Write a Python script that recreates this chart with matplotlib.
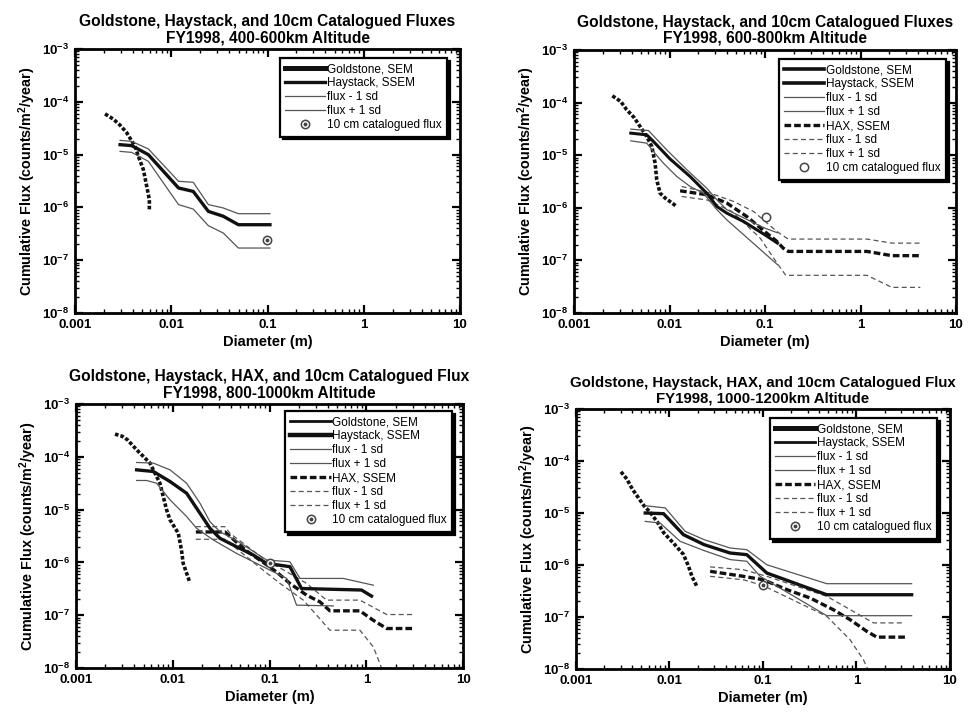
import matplotlib
matplotlib.use("Agg")
import matplotlib.pyplot as plt
from matplotlib.lines import Line2D
from matplotlib.ticker import LogLocator, NullFormatter

plt.rcParams['font.family'] = ['Liberation Sans', 'DejaVu Sans']
plt.rcParams['mathtext.fontset'] = 'custom'
plt.rcParams['mathtext.rm'] = 'Liberation Sans:bold'
plt.rcParams['mathtext.bf'] = 'Liberation Sans:bold'
plt.rcParams['mathtext.it'] = 'Liberation Sans:bold'
plt.rcParams['mathtext.default'] = 'bf'

# ---------------- axis ticks ----------------
X_TICKS = [0.001, 0.01, 0.1, 1, 10]
X_TICK_LABELS = ['0.001', '0.01', '0.1', '1', '10']
Y_TICKS = [1e-8, 1e-7, 1e-6, 1e-5, 1e-4, 1e-3]
Y_TICK_LABELS = [r'$10^{-8}$', r'$10^{-7}$', r'$10^{-6}$', r'$10^{-5}$', r'$10^{-4}$', r'$10^{-3}$']
X_LABEL = 'Diameter (m)'
Y_LABEL = r'Cumulative Flux (counts/m$^{2}$/year)'

TITLES = [
    'Goldstone, Haystack, and 10cm Catalogued Fluxes\nFY1998, 400-600km Altitude',
    'Goldstone, Haystack, and 10cm Catalogued Fluxes\nFY1998, 600-800km Altitude',
    'Goldstone, Haystack, HAX, and 10cm Catalogued Flux\nFY1998, 800-1000km Altitude',
    'Goldstone, Haystack, HAX, and 10cm Catalogued Flux\nFY1998, 1000-1200km Altitude',
]
TITLE_SIZES = [11.2, 11.2, 11.2, 10.85]
LABELS_SHORT = ['Goldstone, SEM', 'Haystack, SSEM', 'flux - 1 sd', 'flux + 1 sd', '10 cm catalogued flux']
LABELS_LONG = ['Goldstone, SEM', 'Haystack, SSEM', 'flux - 1 sd', 'flux + 1 sd',
               'HAX, SSEM', 'flux - 1 sd', 'flux + 1 sd', '10 cm catalogued flux']

# ---------------- Panel 1: 400-600 km ----------------
p1_gold_d = [0.00205, 0.0025, 0.00294, 0.00344, 0.0042, 0.00455, 0.00513, 0.00556, 0.00592, 0.00592]
p1_gold_f = [5.9e-5, 4.7e-5, 3.6e-5, 2.6e-5, 1.44e-5, 9.3e-6, 5.2e-6, 2.5e-6, 1.4e-6, 8.4e-7]
p1_hay_d = [0.00294, 0.00388, 0.00578, 0.0119, 0.0169, 0.0243, 0.0347, 0.0498, 0.106]
p1_hay_f = [1.54e-5, 1.48e-5, 9.97e-6, 2.33e-6, 2.01e-6, 8.4e-7, 6.8e-7, 4.7e-7, 4.7e-7]
p1_hay_up = [1.86e-5, 1.78e-5, 1.28e-5, 3.12e-6, 2.99e-6, 1.13e-6, 9.75e-7, 7.6e-7, 7.6e-7]
p1_hay_lo = [1.15e-5, 1.1e-5, 7.45e-6, 1.13e-6, 9.3e-7, 4.5e-7, 3.27e-7, 1.7e-7, 1.7e-7]
p1_cat_d = [0.098]
p1_cat_f = [2.4e-7]

# ---------------- Panel 2: 600-800 km ----------------
p2_gold_d = [0.00252, 0.00308, 0.00356, 0.00425, 0.00492, 0.00578, 0.00652, 0.00706, 0.00735, 0.00796, 0.0090, 0.0119]
p2_gold_f = [1.34e-4, 1.05e-4, 7.3e-5, 5.2e-5, 3.5e-5, 2.26e-5, 1.46e-5, 7.05e-6, 3.4e-6, 1.9e-6, 1.53e-6, 1.06e-6]
p2_hay_d = [0.00393, 0.00578, 0.00678, 0.0101, 0.0164, 0.0245, 0.0313, 0.0398, 0.0595, 0.0995, 0.135]
p2_hay_f = [2.62e-5, 2.43e-5, 1.82e-5, 8.5e-6, 3.94e-6, 1.9e-6, 1.06e-6, 7.9e-7, 5.5e-7, 3.07e-7, 2.13e-7]
p2_hay_up_d = [0.00393, 0.00601, 0.00935, 0.0152, 0.0245, 0.0313, 0.0398, 0.0995, 0.135]
p2_hay_up_f = [3.12e-5, 2.94e-5, 1.26e-5, 5.27e-6, 2.36e-6, 1.42e-6, 9.2e-7, 4.1e-7, 3.35e-7]
p2_hay_lo_d = [0.00393, 0.00578, 0.00678, 0.00863, 0.0119, 0.0164, 0.0226, 0.0313, 0.0398, 0.135]
p2_hay_lo_f = [1.87e-5, 1.69e-5, 1.17e-5, 7.05e-6, 3.94e-6, 2.54e-6, 1.9e-6, 9.2e-7, 5.9e-7, 8.3e-8]
p2_hax_d = [0.0129, 0.0245, 0.0398, 0.0646, 0.104, 0.133, 0.155, 0.175, 1.17, 2.13, 4.23]
p2_hax_f = [2.1e-6, 1.77e-6, 1.23e-6, 6.8e-7, 3.3e-7, 2.3e-7, 1.71e-7, 1.48e-7, 1.48e-7, 1.23e-7, 1.23e-7]
p2_hax_up_d = [0.0134, 0.0266, 0.0468, 0.0759, 0.133, 0.175, 1.17, 2.13, 4.23]
p2_hax_up_f = [2.54e-6, 1.9e-6, 1.32e-6, 8.5e-7, 3.55e-7, 2.54e-7, 2.54e-7, 2.13e-7, 2.13e-7]
p2_hax_lo_d = [0.0134, 0.025, 0.045, 0.089, 0.133, 0.165, 1.17, 2.13, 4.23]
p2_hax_lo_f = [1.64e-6, 1.4e-6, 8.5e-7, 2.65e-7, 9.0e-8, 5.2e-8, 5.2e-8, 3.07e-8, 3.07e-8]
p2_cat_d = [0.102]
p2_cat_f = [6.65e-7]

# ---------------- Panel 3: 800-1000 km ----------------
p3_gold_d = [0.00253, 0.0030, 0.0034, 0.00423, 0.00581, 0.00736, 0.00863, 0.00936, 0.0114, 0.0123, 0.0128, 0.0145, 0.0150]
p3_gold_f = [2.69e-4, 2.45e-4, 2.1e-4, 1.36e-4, 7.6e-5, 3.16e-5, 9.9e-6, 6.4e-6, 3.56e-6, 1.71e-6, 9.6e-7, 5.0e-7, 4.1e-7]
p3_hay_d = [0.00423, 0.00629, 0.00936, 0.0139, 0.0191, 0.0242, 0.0307, 0.0456, 0.0678, 0.093, 0.162, 0.214, 0.89, 1.13]
p3_hay_f = [5.66e-5, 5.27e-5, 3.4e-5, 2.04e-5, 8.5e-6, 4.43e-6, 2.86e-6, 1.98e-6, 1.38e-6, 9.6e-7, 8.3e-7, 3.2e-7, 3.0e-7, 2.3e-7]
p3_hay_up_d = [0.00423, 0.00629, 0.00936, 0.0139, 0.0191, 0.0242, 0.0307, 0.0494, 0.093, 0.162, 0.206, 0.576, 1.18]
p3_hay_up_f = [7.8e-5, 7.6e-5, 5.66e-5, 3.16e-5, 1.32e-5, 5.9e-6, 3.82e-6, 2.36e-6, 1.11e-6, 1.03e-6, 4.97e-7, 4.97e-7, 3.7e-7]
p3_hay_lo_d = [0.00423, 0.00537, 0.0068, 0.00936, 0.0139, 0.0176, 0.0262, 0.0456, 0.0794, 0.109, 0.15, 0.19, 0.455]
p3_hay_lo_f = [3.56e-5, 3.56e-5, 3.16e-5, 1.53e-5, 7.4e-6, 4.43e-6, 2.66e-6, 1.48e-6, 8.9e-7, 6.65e-7, 5.0e-7, 1.55e-7, 1.5e-7]
p3_hax_d = [0.0173, 0.0346, 0.0578, 0.086, 0.118, 0.162, 0.241, 0.331, 0.42, 0.857, 1.18, 1.62, 3.05]
p3_hax_f = [3.77e-6, 3.77e-6, 1.65e-6, 1.0e-6, 6.6e-7, 4.0e-7, 2.4e-7, 1.79e-7, 1.21e-7, 1.21e-7, 8.0e-8, 5.6e-8, 5.6e-8]
p3_hax_up_d = [0.0173, 0.0346, 0.0389, 0.086, 0.15, 0.241, 0.388, 0.857, 1.62, 3.05]
p3_hax_up_f = [4.75e-6, 4.75e-6, 3.56e-6, 1.19e-6, 6.65e-7, 4.0e-7, 1.93e-7, 1.93e-7, 1.03e-7, 1.03e-7]
p3_hax_lo_d = [0.0173, 0.0346, 0.0389, 0.086, 0.128, 0.223, 0.42, 0.857, 1.18, 1.38, 1.5]
p3_hax_lo_f = [2.74e-6, 2.74e-6, 2.3e-6, 7.1e-7, 4.0e-7, 1.93e-7, 5.2e-8, 5.2e-8, 2.5e-8, 1.21e-8, 8.0e-9]
p3_cat_d = [0.1007]
p3_cat_f = [9.8e-7]

# ---------------- Panel 4: 1000-1200 km ----------------
p4_gold_d = [0.00303, 0.0035, 0.0040, 0.0053, 0.0063, 0.0075, 0.00865, 0.0111, 0.0141, 0.0160, 0.0174, 0.0196]
p4_gold_f = [6.2e-5, 4.5e-5, 2.9e-5, 1.4e-5, 1.0e-5, 6.5e-6, 4.2e-6, 2.6e-6, 1.6e-6, 9.4e-7, 6.05e-7, 3.9e-7]
p4_hay_d = [0.00551, 0.00865, 0.0141, 0.0235, 0.0445, 0.0671, 0.11, 0.481, 3.89]
p4_hay_f = [1.0e-5, 9.7e-6, 3.83e-6, 2.46e-6, 1.7e-6, 1.58e-6, 7.0e-7, 2.68e-7, 2.68e-7]
p4_hay_up_d = [0.00551, 0.00902, 0.0147, 0.0235, 0.0445, 0.0671, 0.11, 0.481, 3.89]
p4_hay_up_f = [1.38e-5, 1.25e-5, 4.44e-6, 3.07e-6, 2.12e-6, 1.97e-6, 1.01e-6, 4.37e-7, 4.37e-7]
p4_hay_lo_d = [0.00551, 0.00796, 0.013, 0.0235, 0.0445, 0.0671, 0.0933, 0.481, 3.89]
p4_hay_lo_f = [6.9e-6, 6.4e-6, 2.85e-6, 1.89e-6, 1.27e-6, 1.18e-6, 6.05e-7, 1.06e-7, 1.06e-7]
p4_hax_d = [0.0272, 0.0619, 0.101, 0.18, 0.319, 0.566, 0.853, 1.29, 1.65, 3.44]
p4_hax_f = [7.55e-7, 6.05e-7, 5.2e-7, 3.36e-7, 2.32e-7, 1.38e-7, 8.9e-8, 5.3e-8, 4.1e-8, 4.1e-8]
p4_hax_up_d = [0.0272, 0.0619, 0.11, 0.481, 1.52, 3.17]
p4_hax_up_f = [9.2e-7, 8.1e-7, 6.05e-7, 2.5e-7, 7.7e-8, 7.7e-8]
p4_hax_lo_d = [0.0272, 0.0619, 0.101, 0.481, 0.853, 1.186, 1.4]
p4_hax_lo_f = [6.05e-7, 5.2e-7, 4.0e-7, 1.03e-7, 3.66e-8, 1.51e-8, 8.0e-9]
p4_cat_d = [0.101]
p4_cat_f = [4.2e-7]

# ---------------- styles ----------------
BLACK = '#111111'
GRAY = '#555555'
GOLD_STYLE = dict(color=BLACK, lw=2.6, linestyle=(0, (1.0, 0.55)), solid_capstyle='butt')
SD_STYLE = dict(color=GRAY, lw=0.9)
HAX_STYLE = dict(color=BLACK, lw=2.4, linestyle=(0, (2.0, 0.9)))
HAX_SD_STYLE = dict(color=GRAY, lw=0.9, linestyle=(0, (4.0, 2.6)))

fig = plt.figure(figsize=(9.68, 7.13), dpi=100)
positions = [
    [0.0775, 0.561, 0.3977, 0.3703],
    [0.593, 0.561, 0.3946, 0.3690],
    [0.0785, 0.0631, 0.4000, 0.3703],
    [0.595, 0.0617, 0.3864, 0.3647],
]
legend_anchor = [(0.966, 0.966), (0.974, 0.966), (0.972, 0.973), (0.965, 0.965)]


def style_axes(ax, title, tsize):
    ax.set_xscale('log')
    ax.set_yscale('log')
    ax.set_xlim(X_TICKS[0], X_TICKS[-1])
    ax.set_ylim(Y_TICKS[0], Y_TICKS[-1])
    ax.set_xticks(X_TICKS)
    ax.set_xticklabels(X_TICK_LABELS, fontsize=9.5, fontweight='bold')
    ax.set_yticks(Y_TICKS)
    ax.set_yticklabels(Y_TICK_LABELS, fontsize=9.5)
    ax.xaxis.set_minor_locator(LogLocator(base=10, subs=range(2, 10), numticks=20))
    ax.yaxis.set_minor_locator(LogLocator(base=10, subs=range(2, 10), numticks=20))
    ax.xaxis.set_minor_formatter(NullFormatter())
    ax.yaxis.set_minor_formatter(NullFormatter())
    ax.tick_params(which='major', direction='in', length=6, width=1.6, top=True, right=True, pad=4)
    ax.tick_params(which='minor', direction='in', length=3, width=1.0, top=True, right=True)
    for s in ax.spines.values():
        s.set_linewidth(2.0)
    ax.set_xlabel(X_LABEL, fontsize=10.5, fontweight='bold', labelpad=3)
    ax.set_ylabel(Y_LABEL, fontsize=10.4, fontweight='bold', labelpad=3)
    ax.set_title(title, fontsize=tsize, fontweight='bold', pad=5, linespacing=1.05)


def cat_handles(ax, d, f, dotted):
    h1, = ax.plot(d, f, linestyle='none', marker='o', ms=6, mfc='white', mec='#444444', mew=1.1)
    if dotted:
        h2, = ax.plot(d, f, linestyle='none', marker='o', ms=1.8, mfc='#444444', mec='#444444')
        return (h1, h2)
    return h1


def make_legend(ax, handles, labels, anchor):
    leg = ax.legend(handles, labels, loc='upper right', bbox_to_anchor=anchor, borderaxespad=0,
                    fontsize=8.5, handlelength=3.4, handletextpad=0.15, labelspacing=0.17,
                    borderpad=0.45, fancybox=False, framealpha=1, edgecolor='black', numpoints=1,
                    shadow={'color': 'black', 'alpha': 1.0})
    leg.get_frame().set_linewidth(1.6)
    return leg


# ---------- Panel 1 ----------
ax = fig.add_axes(positions[0])
style_axes(ax, TITLES[0], TITLE_SIZES[0])
ax.plot(p1_gold_d, p1_gold_f, **GOLD_STYLE)
ax.plot(p1_hay_d, p1_hay_up, **SD_STYLE)
ax.plot(p1_hay_d, p1_hay_lo, **SD_STYLE)
ax.plot(p1_hay_d, p1_hay_f, color=BLACK, lw=2.4)
hc = cat_handles(ax, p1_cat_d, p1_cat_f, True)
handles = [Line2D([], [], color=BLACK, lw=3.6), Line2D([], [], color=BLACK, lw=2.4),
           Line2D([], [], **SD_STYLE), Line2D([], [], **SD_STYLE), hc]
make_legend(ax, handles, LABELS_SHORT, legend_anchor[0])

# ---------- Panels 2-4 ----------
panels = [
    (p2_gold_d, p2_gold_f, p2_hay_d, p2_hay_f, p2_hay_up_d, p2_hay_up_f, p2_hay_lo_d, p2_hay_lo_f,
     p2_hax_d, p2_hax_f, p2_hax_up_d, p2_hax_up_f, p2_hax_lo_d, p2_hax_lo_f, p2_cat_d, p2_cat_f,
     2.6, 2.6, 2.2, False),
    (p3_gold_d, p3_gold_f, p3_hay_d, p3_hay_f, p3_hay_up_d, p3_hay_up_f, p3_hay_lo_d, p3_hay_lo_f,
     p3_hax_d, p3_hax_f, p3_hax_up_d, p3_hax_up_f, p3_hax_lo_d, p3_hax_lo_f, p3_cat_d, p3_cat_f,
     2.0, 3.2, 2.4, True),
    (p4_gold_d, p4_gold_f, p4_hay_d, p4_hay_f, p4_hay_up_d, p4_hay_up_f, p4_hay_lo_d, p4_hay_lo_f,
     p4_hax_d, p4_hax_f, p4_hax_up_d, p4_hax_up_f, p4_hax_lo_d, p4_hax_lo_f, p4_cat_d, p4_cat_f,
     3.6, 2.0, 2.4, True),
]
for i, pdata in enumerate(panels, start=1):
    (gd, gf, hd, hf, hud, huf, hld, hlf, xd, xf, xud, xuf, xld, xlf, cd, cf,
     lw_gold_leg, lw_hay_leg, lw_hay, dotted) = pdata
    ax = fig.add_axes(positions[i])
    style_axes(ax, TITLES[i], TITLE_SIZES[i])
    ax.plot(gd, gf, **GOLD_STYLE)
    ax.plot(xud, xuf, **HAX_SD_STYLE)
    ax.plot(xld, xlf, **HAX_SD_STYLE)
    ax.plot(xd, xf, **HAX_STYLE)
    ax.plot(hud, huf, **SD_STYLE)
    ax.plot(hld, hlf, **SD_STYLE)
    ax.plot(hd, hf, color=BLACK, lw=lw_hay)
    hc = cat_handles(ax, cd, cf, dotted)
    handles = [Line2D([], [], color=BLACK, lw=lw_gold_leg), Line2D([], [], color=BLACK, lw=lw_hay_leg),
               Line2D([], [], **SD_STYLE), Line2D([], [], **SD_STYLE),
               Line2D([], [], **HAX_STYLE), Line2D([], [], **HAX_SD_STYLE), Line2D([], [], **HAX_SD_STYLE), hc]
    make_legend(ax, handles, LABELS_LONG, legend_anchor[i])

fig.savefig('out.png', dpi=100)
